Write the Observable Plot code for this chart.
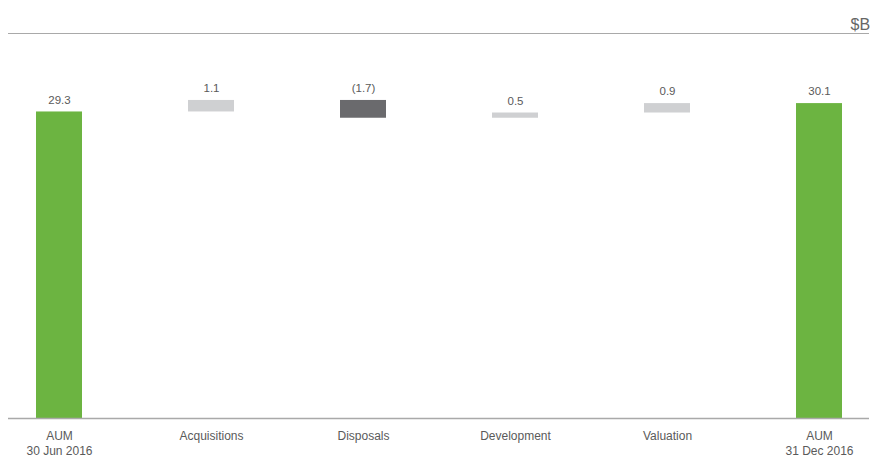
<!DOCTYPE html>
<html>
<head>
<meta charset="utf-8">
<script src="https://cdn.jsdelivr.net/npm/d3@7"></script>
<script src="https://cdn.jsdelivr.net/npm/@observablehq/plot@0.6"></script>
<style>
  html, body { margin: 0; padding: 0; background: #fff; }
  #chart svg { display: block; }
</style>
</head>
<body>
<div id="chart"></div>
<script>
const categories = ["AUM\n30 Jun 2016", "Acquisitions", "Disposals", "Development", "Valuation", "AUM\n31 Dec 2016"];
const values = [29.3, 1.1, -1.7, 0.5, 0.9, 30.1];
const kinds = ["total", "up", "down", "up", "up", "total"];
const valueLabels = ["29.3", "1.1", "(1.7)", "0.5", "0.9", "30.1"];
const unitLabel = "$B";

let running = 0;
const rows = categories.map((c, i) => {
  let y1, y2;
  if (kinds[i] === "total") { y1 = 0; y2 = values[i]; running = values[i]; }
  else { y1 = running; y2 = running + values[i]; running = y2; }
  return { cat: c, y1, y2, top: Math.max(y1, y2), kind: kinds[i], label: valueLabels[i] };
});

const color = { total: "#6cb441", up: "#cfd0d2", down: "#6a6a6d" };
const yTop = 36.8;

const chart = Plot.plot({
  width: 871,
  height: 457,
  marginTop: 33,
  marginBottom: 39,
  marginLeft: 8,
  marginRight: 2,
  style: { fontFamily: "Liberation Sans, Arial, sans-serif", color: "#5a5a5a", background: "#fff" },
  x: { domain: categories, paddingInner: 0.7, paddingOuter: 0.182, label: null },
  y: { domain: [0, yTop], axis: null },
  marks: [
    Plot.ruleY([yTop], { stroke: "#a9a9a9", strokeWidth: 1.2 }),
    Plot.barY(rows, { x: "cat", y1: "y1", y2: "y2", fill: d => color[d.kind] }),
    Plot.ruleY([0], { stroke: "#a9a9a9", strokeWidth: 1.5 }),
    Plot.text(rows, { x: "cat", y: "top", text: "label", dy: -12, fontSize: 11.5, fill: "#5a5a5a" }),
    Plot.axisX({ tickSize: 0, tickPadding: 10, fontSize: 12, lineHeight: 1.3, fill: "#5a5a5a" }),
    Plot.text([unitLabel], { frameAnchor: "top-right", textAnchor: "start", dx: -19, dy: -15, fontSize: 16, fill: "#666" })
  ]
});
document.getElementById("chart").appendChild(chart);
</script>
</body>
</html>
